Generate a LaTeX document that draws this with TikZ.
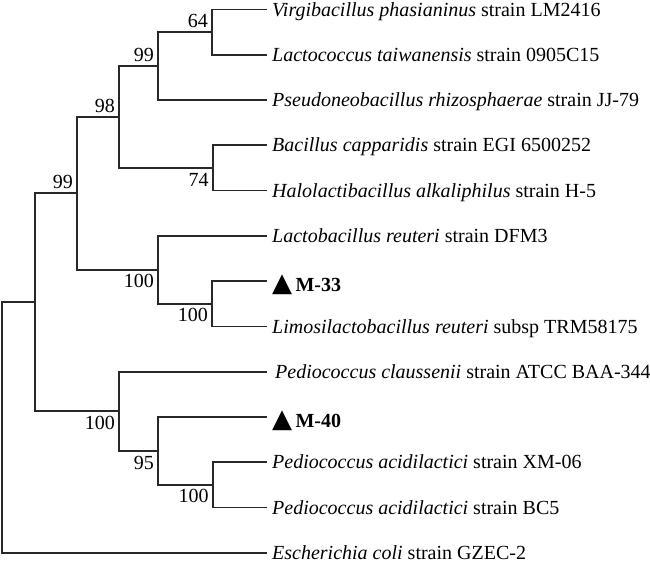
\documentclass[tikz,border=0pt]{standalone}
\usepackage{fontspec}
\setmainfont{Liberation Serif}
\newfontfamily\triangleFont{DejaVu Sans}
\usepackage{tikz}
\definecolor{branchColor}{RGB}{40,40,40}
\tikzstyle{tree} = [x = 1pt, y = -1pt]
\tikzstyle{branchLine} = [color=branchColor, line width=1.8pt]
\tikzstyle{leafText} = [anchor=west, inner xsep=5pt, inner ysep=0pt, text height=17.8pt, text depth=4.6pt, font=\fontsize{20}{22}\selectfont]
\tikzstyle{markedText} = [leafText, text height=26pt]
\tikzstyle{bootStyle} = [font=\fontsize{20}{22}\selectfont, inner xsep=4pt, inner ysep=4.5pt, text height=13.4pt, text depth=0pt]
\newcommand{\leafX}{267}
\newcommand{\leafNode}[3]{\node [leafText] (#1) at (\leafX, #2) {#3};}
\newcommand{\markedNode}[3]{\node [markedText] (#1) at (\leafX, #2) {{\triangleFont\fontsize{26}{26}\selectfont ▲}\,\textbf{#3}};}
\newcommand{\leafBranch}[2]{\draw [branchLine] (#1) |- (#2.west);}
\newcommand{\innerBranch}[2]{\draw [branchLine] (#1) |- (#2);}
\newcommand{\bootAbove}[3]{\node [bootStyle, anchor=south east] (#1) at (#2) {#3};}
\newcommand{\bootBelow}[3]{\node [bootStyle, anchor=north east] (#1) at (#2) {#3};}

\begin{document}
\begin{tikzpicture}[tree]
  \useasboundingbox (0,0) rectangle (650,564);

  \leafNode{virgi}{9.5}{\textit{Virgibacillus phasianinus} strain LM2416}
  \leafNode{lactoTaiwan}{54.8}{\textit{Lactococcus taiwanensis} strain 0905C15}
  \leafNode{pseudo}{100.0}{\textit{Pseudoneobacillus rhizosphaerae} strain JJ-79}
  \leafNode{bacCap}{145.3}{\textit{Bacillus capparidis} strain EGI 6500252}
  \leafNode{halo}{190.6}{\textit{Halolactibacillus alkaliphilus} strain H-5}
  \leafNode{lactoReut}{235.9}{\textit{Lactobacillus reuteri} strain DFM3}
  \markedNode{mThree}{281.1}{M-33}
  \leafNode{limosi}{326.4}{\textit{Limosilactobacillus reuteri} subsp TRM58175}
  \leafNode{pedioClau}{371.7}{\hspace{3pt}\textit{Pediococcus claussenii} strain ATCC BAA-344}
  \markedNode{mFour}{416.9}{M-40}
  \leafNode{pedioXM}{462.2}{\textit{Pediococcus acidilactici} strain XM-06}
  \leafNode{pedioBC}{507.5}{\textit{Pediococcus acidilactici} strain BC5}
  \leafNode{ecoli}{552.7}{\textit{Escherichia coli} strain GZEC-2}

  \coordinate (nVirgi) at (212, 32.2);
  \coordinate (nPseudo) at (158, 66.1);
  \coordinate (nBacillus) at (212.7, 168);
  \coordinate (nUpper) at (119, 117);
  \coordinate (nMThree) at (212, 303.8);
  \coordinate (nReuteri) at (158, 269.8);
  \coordinate (nFirmi) at (77, 193.4);
  \coordinate (nAcidi) at (212.7, 484.8);
  \coordinate (nMFour) at (158, 450.9);
  \coordinate (nPedio) at (119, 411.3);
  \coordinate (nIngroup) at (35, 302.3);
  \coordinate (root) at (2, 427.5);

  \leafBranch{nVirgi}{virgi}
  \leafBranch{nVirgi}{lactoTaiwan}
  \innerBranch{nPseudo}{nVirgi}
  \leafBranch{nPseudo}{pseudo}
  \leafBranch{nBacillus}{bacCap}
  \leafBranch{nBacillus}{halo}
  \innerBranch{nUpper}{nPseudo}
  \innerBranch{nUpper}{nBacillus}
  \leafBranch{nMThree}{mThree}
  \leafBranch{nMThree}{limosi}
  \leafBranch{nReuteri}{lactoReut}
  \innerBranch{nReuteri}{nMThree}
  \innerBranch{nFirmi}{nUpper}
  \innerBranch{nFirmi}{nReuteri}
  \leafBranch{nAcidi}{pedioXM}
  \leafBranch{nAcidi}{pedioBC}
  \leafBranch{nMFour}{mFour}
  \innerBranch{nMFour}{nAcidi}
  \leafBranch{nPedio}{pedioClau}
  \innerBranch{nPedio}{nMFour}
  \innerBranch{nIngroup}{nFirmi}
  \innerBranch{nIngroup}{nPedio}
  \innerBranch{root}{nIngroup}
  \leafBranch{root}{ecoli}

  \bootAbove{bVirgi}{nVirgi}{64}
  \bootAbove{bPseudo}{nPseudo}{99}
  \bootAbove{bUpper}{nUpper}{98}
  \bootAbove{bFirmi}{nFirmi}{99}
  \bootBelow{bBacillus}{nBacillus}{74}
  \bootBelow{bReuteri}{nReuteri}{100}
  \bootBelow{bMThree}{nMThree}{100}
  \bootBelow{bPedio}{nPedio}{100}
  \bootBelow{bMFour}{nMFour}{95}
  \bootBelow{bAcidi}{nAcidi}{100}
\end{tikzpicture}
\end{document}
